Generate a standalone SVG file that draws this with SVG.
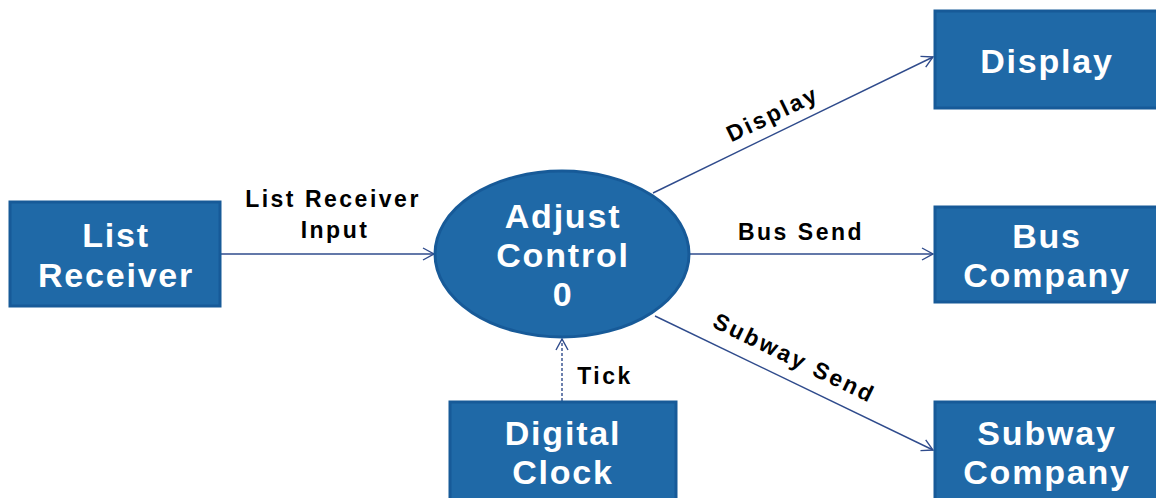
<svg xmlns="http://www.w3.org/2000/svg" width="1156" height="498" viewBox="0 0 1156 498">
<style>
.box{fill:#1f69a7;stroke:#175a98;stroke-width:3}
.nt{font-family:"Liberation Sans",Arial,sans-serif;font-weight:bold;font-size:34px;fill:#ffffff;text-anchor:middle;letter-spacing:1.8px}
.lt{font-family:"Liberation Sans",Arial,sans-serif;font-weight:bold;font-size:23px;fill:#000000;text-anchor:middle;letter-spacing:2.5px}
.ln{stroke:#2f4b8c;stroke-width:1.4;fill:none}
</style>
<defs>
<marker id="arr" markerWidth="14" markerHeight="14" refX="12" refY="7" orient="auto" markerUnits="userSpaceOnUse">
<path d="M1,1 L12,7 L1,13" fill="none" stroke="#2f4b8c" stroke-width="1.4"/>
</marker>
</defs>
<rect width="1156" height="498" fill="#ffffff"/>
<g id="connectors">
<line class="ln" x1="220" y1="254" x2="434" y2="254" marker-end="url(#arr)"/>
<line class="ln" x1="653" y1="193" x2="933" y2="57" marker-end="url(#arr)"/>
<line class="ln" x1="690" y1="254" x2="933" y2="254" marker-end="url(#arr)"/>
<line class="ln" x1="655" y1="316" x2="933" y2="450" marker-end="url(#arr)"/>
<line class="ln" x1="562" y1="401" x2="562" y2="339" stroke-dasharray="3,2" marker-end="url(#arr)"/>
<text class="lt" x="333" y="207">List Receiver</text>
<text class="lt" x="335" y="238">Input</text>
<text class="lt" transform="translate(776,121) rotate(-25.8)">Display</text>
<text class="lt" x="801" y="240">Bus Send</text>
<text class="lt" transform="translate(791,365) rotate(25.8)">Subway Send</text>
<text class="lt" x="605" y="384">Tick</text>
</g>
<g id="list-receiver">
<rect class="box" x="10" y="202" width="210" height="104"/>
<text class="nt" x="116" y="247">List</text>
<text class="nt" x="116" y="287">Receiver</text>
</g>
<g id="adjust-control">
<ellipse cx="562" cy="254" rx="127" ry="83" fill="#1f69a7" stroke="#175a98" stroke-width="3"/>
<text class="nt" x="563" y="228">Adjust</text>
<text class="nt" x="563" y="267">Control</text>
<text class="nt" x="563" y="306">0</text>
</g>
<g id="display">
<rect class="box" x="935" y="11" width="225" height="97"/>
<text class="nt" x="1047" y="73">Display</text>
</g>
<g id="bus-company">
<rect class="box" x="935" y="207" width="225" height="95"/>
<text class="nt" x="1047" y="248">Bus</text>
<text class="nt" x="1047" y="287">Company</text>
</g>
<g id="subway-company">
<rect class="box" x="935" y="402" width="225" height="100"/>
<text class="nt" x="1047" y="445">Subway</text>
<text class="nt" x="1047" y="484">Company</text>
</g>
<g id="digital-clock">
<rect class="box" x="450" y="402" width="226" height="100"/>
<text class="nt" x="563" y="445">Digital</text>
<text class="nt" x="563" y="484">Clock</text>
</g>
</svg>
